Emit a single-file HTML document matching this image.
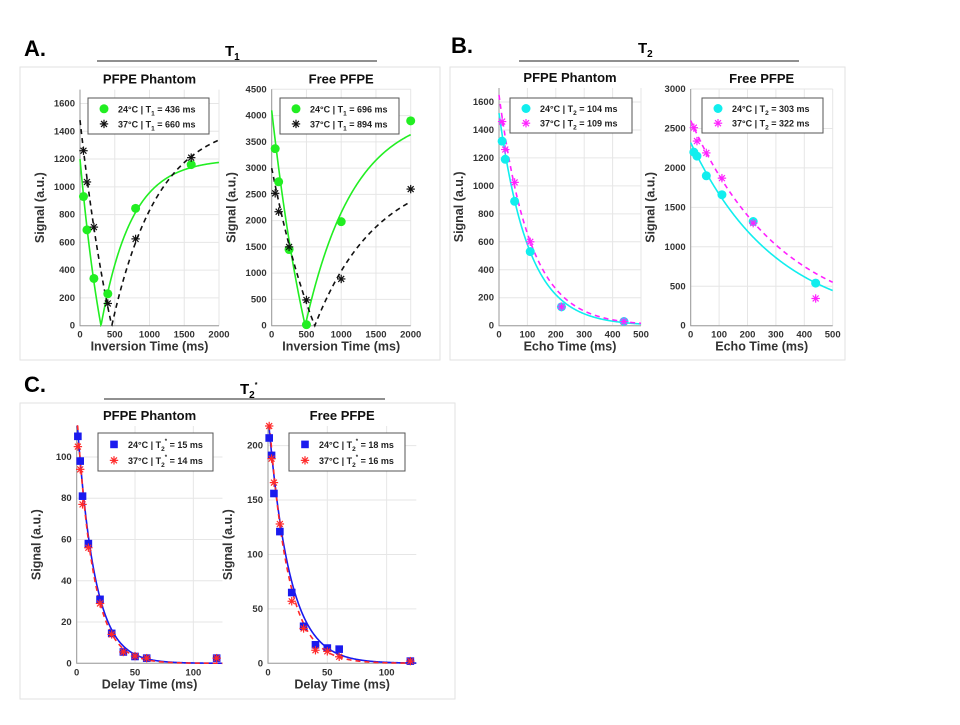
<!DOCTYPE html>
<html><head><meta charset="utf-8"><style>
body{margin:0;background:#fff}
svg text{font-family:"Liberation Sans",Arial,sans-serif}
</style></head><body>
<svg id="fig" width="960" height="720" viewBox="0 0 960 720" xmlns="http://www.w3.org/2000/svg">
<rect x="20" y="67" width="420" height="293" fill="none" stroke="#e2e2e2"/>
<rect x="450" y="67" width="395" height="293" fill="none" stroke="#e2e2e2"/>
<rect x="20" y="403" width="435" height="296" fill="none" stroke="#e2e2e2"/>
<text x="24" y="56" font-size="22" font-weight="bold">A.</text>
<line x1="97" y1="61" x2="377" y2="61" stroke="#222"/>
<text x="225" y="56" font-size="15" font-weight="bold">T<tspan font-size="10" dy="4">1</tspan></text>
<text x="451" y="53" font-size="22" font-weight="bold">B.</text>
<line x1="519" y1="61" x2="799" y2="61" stroke="#222"/>
<text x="638" y="53" font-size="15" font-weight="bold">T<tspan font-size="10" dy="4">2</tspan></text>
<text x="24" y="392" font-size="22" font-weight="bold">C.</text>
<line x1="104" y1="399" x2="385" y2="399" stroke="#222"/>
<text x="240" y="394" font-size="15" font-weight="bold">T<tspan font-size="10" dy="4">2</tspan><tspan font-size="7" dy="-11">*</tspan></text>
<g id="charts"></g>
</svg>
<script>
// ---- Data ----
const a1X=[50,100,200,400,800,1600];
const a1Green=[930,690,340,230,845,1160];
const a1Black=[1260,1035,710,160,625,1210];
const a1Fit=[[1200,436],[1480,660]];
const a2X=[50,100,250,500,1000,2000];
const a2Green=[3370,2740,1450,20,1980,3900];
const a2Black=[2520,2170,1500,490,890,2600];
const a2Fit=[[4100,696],[3000,894]];
const bX=[11,22,55,110,220,440];
const b1Cyan=[1320,1190,890,530,135,30];
const b1Mag=[1460,1260,1025,600,135,30];
const b1Fit=[[1520,104],[1650,109]];
const b2Cyan=[2200,2150,1900,1660,1320,540];
const b2Mag=[2510,2340,2190,1870,1300,345];
const b2Fit=[[2320,303],[2600,322]];
const cX=[1,3,5,10,20,30,40,50,60,120];
const c1Blue=[110,98,81,58,31,14.5,5.5,3.3,2.5,2.5];
const c1Red=[105,94,77,56,29,14,5.5,3.5,2.5,2.5];
const c1Fit=[[120,15],[122,14]];
const c2Blue=[207,191,156,121,65,34,17,14,13,2];
const c2Red=[218,188,166,128,57,32,12,11,6,2];
const c2Fit=[[228,18],[238,16]];
const t1Ticks=[0,500,1000,1500,2000];
const t2Ticks=[0,100,200,300,400,500];
const dTicks=[0,50,100];

const NS="http://www.w3.org/2000/svg";
const root=document.getElementById('charts');
function mk(tag,attrs,parent){const e=document.createElementNS(NS,tag);for(const k in attrs)e.setAttribute(k,attrs[k]);(parent||root).appendChild(e);return e;}
function asterisk(g,x,y,c,s){for(let a=0;a<4;a++){const an=a*Math.PI/4;const l=mk('line',{x1:x-s*Math.cos(an),y1:y-s*Math.sin(an),x2:x+s*Math.cos(an),y2:y+s*Math.sin(an),stroke:c,'stroke-width':1.2},g);

}}
function marker(g,type,x,y,c){
  if(type==='circle'){const m=mk('circle',{cx:x,cy:y,r:4.5,fill:c},g);
    
    }
  else if(type==='square'){const m=mk('rect',{x:x-3.8,y:y-3.8,width:7.6,height:7.6,fill:c},g);
    
    }
  else asterisk(g,x,y,c,4.2);
}
function chart(o){
  const g=mk('g',{});
  
  
  const sx=v=>o.x0+(v-o.xmin)/(o.xmax-o.xmin)*(o.x1-o.x0);
  const sy=v=>o.y0-(v/o.ymax)*(o.y0-o.yTop);
  // grid
  o.yTicks.forEach(t=>{const l=mk('line',{x1:o.x0,x2:o.x1,y1:sy(t),y2:sy(t),stroke:'#e6e6e6'},g);
    
    
    const tx=mk('text',{x:o.x0-5,y:sy(t)+3,'font-size':9.5,'font-weight':'bold','text-anchor':'end',fill:'#333'},g);tx.textContent=t;
    
    });
  o.xTicks.forEach(t=>{const l=mk('line',{x1:sx(t),x2:sx(t),y1:o.yTop,y2:o.y0,stroke:'#e6e6e6'},g);
    
    
    const tx=mk('text',{x:sx(t),y:o.y0+12,'font-size':9.5,'font-weight':'bold','text-anchor':'middle',fill:'#333'},g);tx.textContent=t;
    
    });
  const ax=mk('path',{d:`M${o.x0},${o.yTop}V${o.y0}H${o.x1}`,fill:'none',stroke:'#999'},g);
  
  
  const ti=mk('text',{x:(o.x0+o.x1)/2,y:o.yTop-6,'font-size':13,'font-weight':'bold','text-anchor':'middle',fill:'#111'},g);ti.textContent=o.title;
  
  
  const xt=mk('text',{x:(o.x0+o.x1)/2,y:o.y0+25,'font-size':12.5,'font-weight':'bold','text-anchor':'middle',fill:'#333'},g);xt.textContent=o.xLabel;
  
  
  const yx=o.x0-36, yy=(o.yTop+o.y0)/2;
  const yt=mk('text',{x:yx,y:yy,'font-size':12.5,'font-weight':'bold','text-anchor':'middle',fill:'#333',transform:`rotate(-90 ${yx} ${yy})`},g);yt.textContent='Signal (a.u.)';
  
  
  // fits
  o.series.forEach(s=>{
    let d='';const N=300;
    for(let i=0;i<=N;i++){const t=o.xmin+(o.xmax-o.xmin)*i/N;let v=s.fit[0]*(o.model==='ir'?Math.abs(1-2*Math.exp(-t/s.fit[1])):Math.exp(-t/s.fit[1]));
      v=Math.min(v,o.ymax);d+=(i?'L':'M')+sx(t).toFixed(2)+','+sy(v).toFixed(2);}
    const p=mk('path',{d,fill:'none',stroke:s.lc||s.color,'stroke-width':1.6,'stroke-dasharray':s.dash?'5,4':'none'},g);
    
    
  });
  o.series.forEach(s=>{s.y.forEach((v,i)=>marker(g,s.marker,sx(o.xs[i]),sy(v),s.color));});
  // legend
  const L=o.legend;
  const lb=mk('rect',{x:L[0],y:L[1],width:L[2],height:L[3],fill:'#fff',stroke:'#555','stroke-width':1},g);
  
  
  o.series.forEach((s,i)=>{const yy=L[1]+L[3]*(0.3+0.42*i);
    marker(g,s.marker,L[0]+16,yy,s.color);
    const t=mk('text',{x:L[0]+30,y:yy+3.5,'font-size':9,'font-weight':'bold',fill:'#222'},g);
    
    
    t.innerHTML=s.label;});
}
const sub=(n,st)=>`T<tspan font-size="6.5" dy="3">${n}</tspan>${st?'<tspan font-size="6" dy="-8">*</tspan><tspan dy="5"> </tspan>':'<tspan dy="-3"> </tspan>'}`;
chart({name:'t1-phantom-chart',title:'PFPE Phantom',xLabel:'Inversion Time (ms)',model:'ir',x0:80,x1:219,y0:325.7,yTop:89.6,xmin:0,xmax:2000,ymax:1700,
  xTicks:t1Ticks,yTicks:[0,200,400,600,800,1000,1200,1400,1600],xs:a1X,legend:[88,98,121,36],
  series:[{y:a1Green,fit:a1Fit[0],color:'#22ee22',marker:'circle',label:'24°C  |  '+sub(1)+'= 436 ms'},
          {y:a1Black,fit:a1Fit[1],color:'#111',marker:'ast',dash:true,label:'37°C  |  '+sub(1)+'= 660 ms'}]});
chart({name:'t1-free-chart',title:'Free PFPE',xLabel:'Inversion Time (ms)',model:'ir',x0:271.7,x1:410.7,y0:325.7,yTop:89.3,xmin:0,xmax:2000,ymax:4500,
  xTicks:t1Ticks,yTicks:[0,500,1000,1500,2000,2500,3000,3500,4000,4500],xs:a2X,legend:[280,98,119,36],
  series:[{y:a2Green,fit:a2Fit[0],color:'#22ee22',marker:'circle',label:'24°C  |  '+sub(1)+'= 696 ms'},
          {y:a2Black,fit:a2Fit[1],color:'#111',marker:'ast',dash:true,label:'37°C  |  '+sub(1)+'= 894 ms'}]});
chart({name:'t2-phantom-chart',title:'PFPE Phantom',xLabel:'Echo Time (ms)',model:'exp',x0:499,x1:641,y0:325.7,yTop:88,xmin:0,xmax:500,ymax:1700,
  xTicks:t2Ticks,yTicks:[0,200,400,600,800,1000,1200,1400,1600],xs:bX,legend:[510,98,122,35],
  series:[{y:b1Cyan,fit:b1Fit[0],color:'#11eeee',marker:'circle',label:'24°C  |  '+sub(2)+'= 104 ms'},
          {y:b1Mag,fit:b1Fit[1],color:'#ff22ff',marker:'ast',dash:true,label:'37°C  |  '+sub(2)+'= 109 ms'}]});
chart({name:'t2-free-chart',title:'Free PFPE',xLabel:'Echo Time (ms)',model:'exp',x0:690.7,x1:832.7,y0:325.7,yTop:89,xmin:0,xmax:500,ymax:3000,
  xTicks:t2Ticks,yTicks:[0,500,1000,1500,2000,2500,3000],xs:bX,legend:[702,98,121,35],
  series:[{y:b2Cyan,fit:b2Fit[0],color:'#11eeee',marker:'circle',label:'24°C  |  '+sub(2)+'= 303 ms'},
          {y:b2Mag,fit:b2Fit[1],color:'#ff22ff',marker:'ast',dash:true,label:'37°C  |  '+sub(2)+'= 322 ms'}]});
chart({name:'t2star-phantom-chart',title:'PFPE Phantom',xLabel:'Delay Time (ms)',model:'exp',x0:76.7,x1:222.5,y0:663.3,yTop:426,xmin:0,xmax:125,ymax:115,
  xTicks:dTicks,yTicks:[0,20,40,60,80,100],xs:cX,legend:[98,433,115,38],
  series:[{y:c1Blue,fit:c1Fit[0],color:'#1a1aee',marker:'square',label:'24°C  |  '+sub(2,1)+'= 15 ms'},
          {y:c1Red,fit:c1Fit[1],color:'#ff2a2a',marker:'ast',dash:true,label:'37°C  |  '+sub(2,1)+'= 14 ms'}]});
chart({name:'t2star-free-chart',title:'Free PFPE',xLabel:'Delay Time (ms)',model:'exp',x0:268,x1:416.3,y0:663.3,yTop:426,xmin:0,xmax:125,ymax:218,
  xTicks:dTicks,yTicks:[0,50,100,150,200],xs:cX,legend:[289,433,116,38],
  series:[{y:c2Blue,fit:c2Fit[0],color:'#1a1aee',marker:'square',label:'24°C  |  '+sub(2,1)+'= 18 ms'},
          {y:c2Red,fit:c2Fit[1],color:'#ff2a2a',marker:'ast',dash:true,label:'37°C  |  '+sub(2,1)+'= 16 ms'}]});
</script>
</body></html>
